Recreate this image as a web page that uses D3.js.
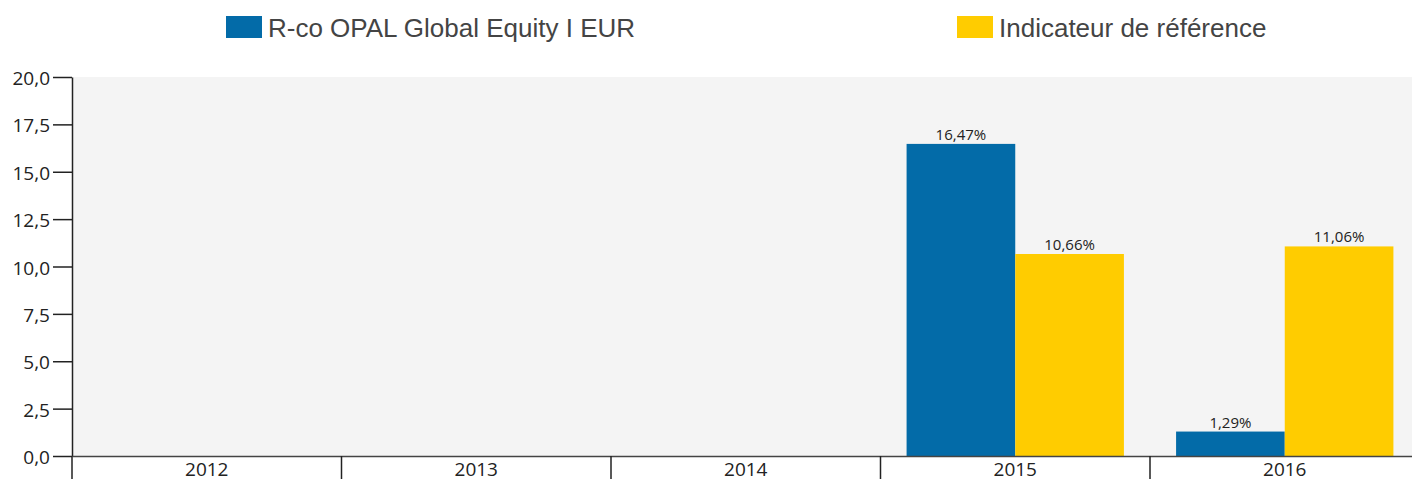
<!DOCTYPE html>
<html>
<head>
<meta charset="utf-8">
<script src="https://cdn.jsdelivr.net/npm/d3@7"></script>
<style>
  body { margin: 0; background: #fff; }
  #chart { width: 1412px; height: 479px; overflow: hidden; }
  svg { display: block; }
</style>
</head>
<body>
<div id="chart"></div>
<script>
// Données
const annees = ["2012", "2013", "2014", "2015", "2016"];
const fonds = [null, null, null, 16.47, 1.29];
const indicateur = [null, null, null, 10.66, 11.06];
const nomsSeries = ["R-co OPAL Global Equity I EUR", "Indicateur de référence"];
const couleurs = ["#036ba8", "#ffcc00"];
const ticksY = [0, 2.5, 5, 7.5, 10, 12.5, 15, 17.5, 20];

const width = 1412, height = 479;
const margins = { top: 77, left: 72, bottom: 23 };
const plotRight = 1419.5;

const container = d3.select("#chart");
const svg = container.append("svg")
    .attr("width", width)
    .attr("height", height);

const fmt = v => d3.format(".1f")(v).replace(".", ",");
const fmtPct = v => d3.format(".2f")(v).replace(".", ",") + "%";

// Echelles
const xScale = d3.scaleBand()
    .domain(annees)
    .range([margins.left, plotRight])
    .paddingInner(0)
    .paddingOuter(0);

const xSerie = d3.scaleBand()
    .domain([0, 1])
    .range([0, xScale.bandwidth()])
    .paddingOuter(0.24)
    .paddingInner(0);

const yScale = d3.scaleLinear()
    .domain([0, 20])
    .range([height - margins.bottom, margins.top]);

// Fond
svg.append("rect")
    .attr("x", margins.left)
    .attr("y", yScale(20))
    .attr("width", plotRight - margins.left)
    .attr("height", yScale(0) - yScale(20))
    .attr("fill", "#f4f4f4");

// Barres
const donnees = annees.map((a, i) => ({ annee: a, valeurs: [fonds[i], indicateur[i]] }));

const groupes = svg.append("g").selectAll("g")
    .data(donnees)
    .join("g")
    .attr("transform", d => `translate(${xScale(d.annee)},0)`);

groupes.selectAll("rect")
    .data(d => d.valeurs.map((v, s) => ({ v, s })).filter(e => e.v !== null))
    .join("rect")
    .attr("x", e => xSerie(e.s))
    .attr("width", xSerie.bandwidth())
    .attr("y", e => yScale(e.v))
    .attr("height", e => yScale(0) - yScale(e.v))
    .attr("fill", e => couleurs[e.s]);

groupes.selectAll("text")
    .data(d => d.valeurs.map((v, s) => ({ v, s })).filter(e => e.v !== null))
    .join("text")
    .attr("x", e => xSerie(e.s) + xSerie.bandwidth() / 2)
    .attr("y", e => yScale(e.v) - 4)
    .attr("text-anchor", "middle")
    .attr("font-family", "'Open Sans', sans-serif")
    .attr("font-size", 15)
    .attr("fill", "#222")
    .text(e => fmtPct(e.v));

// Axe Y
const axeY = svg.append("g")
    .attr("transform", `translate(${margins.left},0)`)
    .call(d3.axisLeft(yScale).tickValues(ticksY).tickFormat(fmt).tickSize(19).tickSizeOuter(0));
axeY.selectAll("text")
    .attr("font-family", "'Open Sans', sans-serif")
    .attr("font-size", 19)
    .attr("fill", "#222")
    .attr("x", -22)
    .attr("dy", "0.4em");
axeY.selectAll("line").attr("stroke", "#222").attr("stroke-width", 1.5);
axeY.select(".domain").attr("stroke", "#222").attr("stroke-width", 1.5);

// Axe X
const axeX = svg.append("g")
    .attr("transform", `translate(0,${yScale(0)})`)
    .call(d3.axisBottom(xScale).tickSize(0).tickSizeOuter(0));
axeX.select(".domain").attr("stroke", "#444").attr("stroke-width", 1.5);
axeX.selectAll("text")
    .attr("font-family", "'Open Sans', sans-serif")
    .attr("font-size", 19)
    .attr("fill", "#222")
    .attr("dy", null)
    .attr("y", 19.5);

// Séparateurs entre années
svg.append("g").selectAll("line")
    .data(annees)
    .join("line")
    .attr("x1", d => xScale(d))
    .attr("x2", d => xScale(d))
    .attr("y1", yScale(0))
    .attr("y2", height)
    .attr("stroke", "#222")
    .attr("stroke-width", 1.5);

// Légende
const legendeX = [226, 957];
const legende = svg.append("g").selectAll("g")
    .data(nomsSeries)
    .join("g")
    .attr("transform", (d, i) => `translate(${legendeX[i]},16)`);
legende.append("rect")
    .attr("width", 36)
    .attr("height", 22)
    .attr("fill", (d, i) => couleurs[i]);
legende.append("text")
    .attr("x", 42)
    .attr("y", 21)
    .attr("font-family", "'Liberation Sans', Arial, sans-serif")
    .attr("font-size", 26)
    .attr("fill", "#444")
    .text(d => d);
</script>
</body>
</html>
